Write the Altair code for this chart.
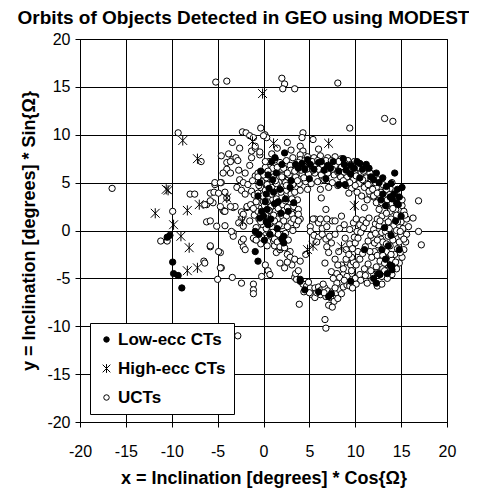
import altair as alt
import pandas as pd

# ---------------- data ----------------
series_names = ["Low-ecc CTs", "High-ecc CTs", "UCTs"]

low_ecc_points = [
    (-10.5, -0.7), (-10.2, -0.5), (-9.9, -3.3), (-9.8, -4.5), (-9.3, -4.7), (-8.9, -6.0),
    (-0.9, -2.2), (-0.6, -3.2), (-0.9, -0.1), (-0.5, -0.4), (0.0, 1.5), (0.4, 2.2), (0.8, 1.2),
    (1.2, 2.8), (0.2, 3.0), (-0.4, 5.0), (-0.6, 3.6), (1.25, 7.6), (0.9, 7.2), (2.3, 8.1),
    (0.3, 3.8), (0.6, 4.4), (1.0, 5.3), (1.4, 6.0), (1.8, 4.3), (2.4, 3.3), (2.9, 4.5),
    (0.5, 0.6), (1.5, 0.2), (2.0, -0.9), (2.2, -1.3), (2.2, -0.6), (-0.2, 2.0), (0.1, -1.0),
    (1.1, 4.0), (-0.3, 6.2), (0.5, 5.8),
    (3.5, 6.9), (4.5, 6.4), (5.5, 6.4), (6.0, 7.1), (6.6, 6.3), (7.3, 6.5), (7.6, 7.2),
    (8.2, 6.2), (8.8, 6.9), (9.5, 6.8), (10.2, 7.2), (10.8, 6.4), (11.2, 6.9), (11.7, 5.6),
    (12.3, 6.0), (12.6, 5.0), (13.0, 5.5), (13.4, 4.6), (14.3, 6.0), (15.1, 4.5), (8.2, 4.8),
    (8.9, 4.8), (5.0, 5.4), (6.8, 5.4), (9.5, 5.9), (10.5, 5.5), (4.2, 7.0), (3.0, 5.2),
    (14.5, 2.9), (14.7, 2.7), (13.8, 3.5), (14.2, 3.8), (13.3, 2.6), (12.8, 3.2), (14.6, 4.3),
    (13.6, -1.6), (13.8, -3.6), (14.0, -4.1), (12.7, -4.6), (12.3, -5.5), (13.3, -3.0),
    (12.5, -4.5), (14.0, -3.7), (13.9, -0.5), (14.4, 1.0), (12.9, -2.0),
    (4.5, -6.2), (4.0, -5.1), (7.1, -6.9), (7.4, -6.6), (4.0, -5.3), (6.0, -6.4),
    (1.9, 1.8), (2.7, 2.0), (0.3, 0.9), (1.6, 3.0), (-0.4, 1.3), (2.0, 6.9), (3.8, 6.5),
    (5.1, 6.9), (6.3, 7.2), (7.0, 6.8), (9.0, 6.3), (9.9, 6.5), (10.5, 7.0), (11.5, 6.5),
    (12.0, 5.3), (13.0, 3.8), (14.0, 3.3), (14.8, 3.5), (15.0, 1.5), (14.8, -2.0), (13.5, -4.5),
    (12.0, -5.0), (13.2, 0.3), (11.0, -2.0), (9.5, -5.3), (8.7, 7.5), (4.8, 7.4), (3.3, 2.9),
    (0.7, -0.4), (13.9, 4.9),
]

high_ecc_points = [
    (-8.8, 9.4), (-7.2, 7.5), (-10.6, 4.3), (-10.4, 4.2), (-11.8, 1.8), (-8.3, 2.1),
    (-7.0, 2.7), (-9.8, 0.6), (-9.0, -0.6), (-8.1, -1.8), (-8.3, -4.2), (-7.2, -3.9),
    (-0.1, 14.3), (1.1, 9.1), (7.1, 9.1), (9.9, 2.6), (4.8, -2.0), (5.4, -1.6), (8.5, -1.7),
    (-1.2, 9.3), (-2.3, 1.0), (-4.0, 3.4),
]

uct_points = [
    # sparse points on the left
    (-16.5, 4.4), (-5.2, 15.5), (-4.0, 15.6), (-9.3, 10.2), (-6.8, 7.2), (-8.0, 3.8), (-7.5, 3.8),
    (-6.2, 2.7), (-5.8, 3.9), (-5.3, 4.8), (-4.6, 7.8), (-4.6, 5.0), (-4.4, 2.1), (-4.0, 3.4),
    (-9.9, 2.0), (-11.2, -1.1), (-10.5, -1.1), (-6.5, -3.2), (-5.8, -1.7), (-5.0, -5.1),
    (-4.7, -2.3), (-4.6, -3.9), (-3.4, -4.9), (-2.4, -5.5), (-1.1, -5.6), (-1.1, -6.2),
    (-1.1, -6.6), (-2.8, -11.0), (-6.2, 0.9), (-5.1, 0.45), (-4.3, 2.0), (-3.3, -0.25),
    (-3.3, -0.6), (-2.4, -1.2), (-2.2, -1.7), (-3.3, 2.4), (-2.4, 1.95), (-2.4, 1.25),
    (-1.8, 2.4), (-1.0, -0.9), (-5.8, 1.0), (-4.2, 0.5), (-3.5, -0.1), (-2.7, 0.8),
    (-2.2, 0.45), (-2.2, -0.9), (-2.0, -2.0), (-1.1, -0.8), (-5.8, -1.6), (-4.9, -2.2),
    (-6.4, -3.4), (-4.7, -3.9), (0.2, -3.6), (0.5, -4.2), (0.7, -4.6), (-0.2, -4.8),
    (1.4, -2.3), (1.8, -2.0), (0.2, -0.2), (0.8, -0.6), (1.1, -1.1),
    (-6.4, 2.7), (-5.5, 2.9), (-4.2, 2.0), (-3.1, 2.5), (-2.2, 1.7), (-1.5, 1.0),
    (-1.0, 1.6), (-0.6, 2.0), (-0.2, 2.4),
    # upper-left scatter
    (-3.8, 8.0), (-3.4, 7.4), (-3.0, 7.6), (-2.8, 7.3), (-3.4, 9.2), (-2.6, 8.6), (-2.3, 10.3),
    (-1.9, 10.2), (-1.5, 9.9), (-1.1, 9.7), (0.16, 10.0), (0.35, 9.7), (-1.3, 8.3), (-0.9, 8.6),
    (-0.4, 7.9), (-4.0, 7.1), (-3.6, 7.2), (-4.0, 6.4), (-3.6, 6.0), (-4.4, 6.0), (-2.7, 6.3),
    (-2.6, 5.3), (-2.2, 5.0), (-1.7, 4.8), (-0.9, 5.7), (-0.6, 6.0), (-5.3, 5.0), (-4.7, 5.0),
    (-5.4, 4.0), (-4.9, 3.9), (-4.2, 4.0), (-2.9, 4.5), (-2.4, 4.2), (-2.0, 3.8), (-1.3, 4.1),
    (-1.0, 3.7), (-0.6, 3.3), (-0.2, 2.9), (-5.8, 3.1), (-4.7, 2.5), (-3.6, 2.5), (-1.8, 2.5),
    (-1.4, 2.7), (-1.1, 2.3), (-1.3, 7.6), (-0.9, 8.8), (-0.4, 8.2), (-0.3, 10.7), (0.0, 9.9),
    (-1.5, 6.8), (-2.0, 6.0), (-1.2, 5.2), (-0.3, 4.5), (0.3, 5.5), (0.2, 6.6), (0.6, 7.2),
    (1.0, 6.5), (0.9, 8.0),
    # upper outliers
    (2.0, 15.9), (2.3, 15.3), (2.1, 14.8), (3.4, 14.8), (8.1, 15.4), (13.2, 11.7), (14.1, 11.4),
    (9.4, 10.7), (4.3, 10.2), (4.2, 9.7), (5.4, 9.5), (6.0, 8.5), (4.0, 8.8), (4.3, 8.3),
    (4.5, 7.8), (4.0, 7.9), (1.5, 8.6), (2.6, 9.2), (3.0, 8.4),
    # central cluster
    (0.0, 0.5), (0.5, 1.0), (1.0, 0.3), (1.5, 1.2), (2.0, 0.5), (2.5, 1.5), (3.0, 0.8), (3.5, 1.8),
    (0.3, 1.8), (0.8, 2.5), (1.3, 2.0), (1.8, 2.8), (2.3, 2.2), (2.8, 3.0), (3.3, 2.5), (0.0, 3.0),
    (0.5, 3.5), (1.0, 3.2), (1.5, 3.8), (2.0, 3.5), (2.5, 4.2), (3.0, 3.8), (0.2, 4.2), (0.7, 4.8),
    (1.2, 4.5), (1.7, 5.0), (2.2, 4.7), (-0.5, 4.7), (-0.8, 3.0), (-0.5, 1.2), (-0.2, 0.0),
    (0.6, -0.2), (1.6, -0.4), (2.4, -0.3), (3.2, 0.0), (2.7, -1.0), (2.1, -1.3), (3.6, 0.6),
    (4.0, 1.2), (3.8, 2.2), (3.7, 3.2), (0.0, 5.8), (0.5, 6.2), (1.1, 5.6), (1.6, 6.2), (2.1, 5.8),
    (2.7, 5.3), (-0.3, 1.6), (0.9, 1.5), (2.2, 1.0), (3.1, 1.7), (1.2, -1.6), (1.9, -1.8),
    (2.9, -2.2),
    (-0.8, 0.3), (-0.3, 0.9), (0.3, 0.2), (0.7, 0.7), (1.2, 1.0), (1.7, 0.6), (2.6, 0.4),
    (3.3, 1.2), (0.1, 2.6), (0.6, 2.1), (1.1, 1.6), (1.6, 2.3), (2.1, 2.7), (2.6, 2.4),
    (3.1, 3.3), (-0.6, 3.9), (-0.1, 3.6), (0.4, 3.0), (0.9, 3.8), (1.4, 3.3), (2.4, 3.1),
    (-0.2, 5.1), (0.4, 4.8), (0.9, 4.5), (1.4, 4.9), (1.9, 4.0), (2.4, 5.0), (-0.6, 5.6),
    (0.2, 7.2), (1.3, 7.4), (2.0, 6.4), (-0.3, -1.4), (0.4, -1.6), (-0.8, -1.0),
    # lower-left diagonal
    (1.0, -0.2), (1.2, -0.9), (1.5, -1.2), (1.8, -1.7), (2.3, -1.8), (2.6, -2.5), (2.9, -2.8),
    (3.4, -3.0), (4.0, -3.2), (1.8, -3.4), (2.3, -3.9), (3.4, -4.9), (3.6, -5.1), (3.9, -7.7),
    (3.5, -4.5), (4.3, -5.6), (3.8, -4.2), (3.1, -3.6), (2.6, -3.3),
    # bottom arc
    (4.7, -5.8), (5.1, -6.0), (5.6, -6.0), (6.0, -5.9), (6.3, -6.2), (6.7, -6.0), (7.0, -6.3),
    (7.5, -6.4), (7.9, -6.5), (8.3, -6.2), (8.7, -5.9), (9.1, -5.7), (5.3, -6.7), (5.6, -7.0),
    (6.2, -6.7), (6.8, -6.9), (7.3, -7.0), (7.7, -7.4), (8.1, -7.1), (8.5, -6.6), (4.4, -6.4),
    (5.0, -6.5), (7.1, -7.8), (7.5, -8.0), (6.7, -9.3), (6.8, -10.2), (4.9, -5.4), (6.5, -5.6),
    (8.0, -5.5), (5.8, -6.5), (6.6, -6.5), (7.8, -6.0),
    # inner band
    (5.1, 0.4), (5.6, 1.2), (6.0, 0.8), (6.4, 0.2), (6.9, 0.4), (7.5, 1.0), (7.8, 1.0), (8.5, 1.5),
    (6.2, 1.2), (5.4, 1.2), (6.9, 1.2), (3.8, 1.7), (3.8, 1.0), (5.1, -0.1), (5.5, -0.5),
    (6.0, -0.7), (6.4, -0.4), (6.8, -0.9), (7.2, -0.6), (7.4, -1.3), (6.9, -1.7), (5.8, -1.2),
    (7.8, -0.4), (8.3, 0.2), (8.8, 0.6), (6.7, -3.4), (7.8, -3.0), (7.4, -4.3), (8.0, -4.5),
    (8.7, -4.6), (9.1, -3.3), (9.5, -3.6), (9.8, -3.3), (9.6, -4.5), (9.3, -5.4), (4.6, -2.5),
    (7.1, -2.3), (8.2, -2.2), (8.9, -0.8), (9.4, 0.1), (9.8, 0.8), (6.3, 3.4), (6.2, 4.3),
    (6.3, 5.2), (6.8, 2.2),
    (9.0, -2.0), (9.4, -1.4), (9.9, -0.7), (10.2, -0.1), (10.5, 0.6), (10.1, 1.2), (10.8, 1.1),
    (9.6, -2.8), (10.3, -2.2), (7.6, -5.0), (8.3, -4.9), (8.5, -3.6), (8.1, -3.6),
    # lower-right band
    (8.7, -4.0), (9.0, -3.0), (9.3, -2.5), (9.7, -1.9), (10.0, -1.3), (10.3, -0.8), (10.6, -0.2),
    (10.9, 0.3), (11.2, 0.8), (11.5, 1.3), (9.1, -4.8), (9.6, -4.2), (10.1, -3.6), (10.5, -3.0),
    (10.8, -2.4), (11.1, -1.7), (11.4, -1.1), (11.7, -0.5), (12.0, 0.1), (12.2, 0.7),
    (10.0, -5.0), (10.5, -4.6), (11.0, -4.0), (11.4, -3.5), (11.8, -2.8), (12.1, -2.2),
    (12.5, -1.5), (12.8, -0.9), (12.9, -0.2), (11.8, -5.2), (12.0, -4.6), (11.3, -5.5),
    (12.3, -3.8), (9.4, -5.8), (8.8, -5.2), (12.4, -5.8), (12.9, -5.6), (13.3, -2.9),
    (13.0, -4.0), (12.4, -4.4), (11.7, -4.2), (11.1, -4.7), (10.6, -5.2), (10.1, -5.6),
    (9.7, -6.0), (13.7, -4.3), (12.7, -3.2), (12.4, -2.6), (11.6, -2.2), (12.1, -1.3),
    # right band
    (13.5, 3.2), (14.0, 2.8), (14.4, 2.2), (14.8, 1.6), (15.0, 0.9), (15.2, 0.2), (15.0, -0.5),
    (14.8, -1.2), (14.6, -1.9), (14.3, -2.5), (14.0, -3.1), (13.6, -3.6), (13.2, -4.2),
    (12.9, -4.8), (13.8, 2.0), (13.9, 1.2), (14.2, 0.5), (14.3, -0.3), (14.1, -1.0),
    (13.8, -1.6), (13.4, -2.2), (13.0, -2.6), (12.9, 1.5), (13.1, 0.7), (13.3, -0.1),
    (13.0, -1.2), (12.6, 2.2), (12.3, 2.9), (12.0, 3.5), (11.6, 3.8), (11.3, 3.2), (11.0, 2.4),
    (12.7, 3.6), (13.2, 4.1), (13.8, 4.4), (14.3, 3.8), (14.7, 3.2), (15.1, 2.6), (15.3, 2.0),
    (15.6, 1.2), (15.8, 0.4), (15.6, -0.4), (15.5, -1.2), (15.3, -2.0), (15.1, -2.8),
    (14.8, -3.4), (14.5, -4.0), (14.0, -4.6), (13.5, -5.0), (16.9, 3.1), (16.3, 1.3),
    (16.9, -0.1), (17.2, -1.5), (15.1, 3.2), (14.0, 5.0), (12.6, 0.5),
    (12.4, 1.2), (12.7, 1.0), (13.4, 1.8), (13.6, 0.9), (13.7, 0.2), (13.6, -0.6), (13.4, -1.4),
    (12.4, -1.0), (12.2, -0.3), (14.5, 0.0), (14.6, 0.9), (14.5, 1.6), (14.1, 2.3), (13.4, 2.6),
    (12.9, 2.9), (14.9, -0.1), (14.9, -2.3), (14.4, -3.3), (13.9, -2.5), (13.2, -3.4),
    (15.3, -0.9), (15.4, 1.6),
    # top arc
    (2.5, 7.3), (3.2, 7.6), (4.0, 7.4), (4.8, 7.7), (5.5, 7.6), (6.2, 7.8), (7.0, 7.6), (7.8, 7.7),
    (8.5, 7.5), (9.2, 7.3), (9.9, 7.2), (10.6, 6.8), (11.3, 6.4), (11.9, 5.9), (12.5, 5.3),
    (13.0, 4.8), (2.2, 6.5), (2.9, 6.8), (3.6, 6.6), (4.3, 6.9), (5.0, 6.8), (5.7, 6.9),
    (6.4, 6.7), (7.1, 6.9), (7.8, 6.8), (8.5, 6.6), (9.2, 6.5), (9.9, 6.2), (10.6, 5.9),
    (11.2, 5.5), (11.8, 5.0), (12.3, 4.5), (12.8, 4.0), (2.8, 5.8), (3.5, 5.6), (4.2, 5.9),
    (4.9, 5.9), (5.6, 6.0), (6.3, 5.8), (7.0, 6.0), (7.7, 5.8), (8.4, 5.6), (9.1, 5.6),
    (9.8, 5.3), (10.4, 4.9), (11.0, 4.5), (11.5, 4.1), (12.0, 3.6), (3.2, 4.8), (3.9, 4.9),
    (4.6, 5.1), (5.2, 4.9), (5.9, 5.1), (7.5, 5.0), (8.1, 4.7), (9.0, 4.7), (9.6, 4.4),
    (10.2, 4.0), (10.7, 3.6), (4.0, 4.2), (4.8, 4.3), (3.4, 4.0), (7.1, 4.5), (9.3, 3.9),
    (3.0, 6.3), (5.3, 7.2), (6.8, 7.3), (8.9, 7.0), (10.3, 6.6), (11.6, 6.0), (1.8, 7.1),
    (1.5, 6.6), (1.3, 5.2),
    (2.0, 5.6), (2.6, 6.0), (3.4, 6.2), (4.1, 6.3), (4.7, 6.4), (5.4, 6.3), (6.0, 6.4),
    (6.8, 6.4), (7.5, 6.4), (8.1, 6.1), (8.8, 6.1), (9.5, 6.0), (10.1, 5.7), (10.8, 5.3),
    (11.4, 4.8), (11.9, 4.3), (12.4, 3.9), (3.8, 7.1), (4.5, 7.3), (5.9, 7.3), (7.4, 7.3),
    (8.2, 7.2), (9.5, 6.9), (10.9, 6.2), (11.7, 5.4), (12.2, 5.0), (13.4, 4.3), (3.7, 5.2),
    (4.4, 5.5), (6.6, 5.3), (8.7, 5.2), (9.4, 5.0), (10.0, 4.7), (2.5, 4.7),
]

axis_ticks = [-20, -15, -10, -5, 0, 5, 10, 15, 20]

# ---------------- table ----------------
draw_rank = {"UCTs": 0, "Low-ecc CTs": 1, "High-ecc CTs": 2}
rows = []
for name, pts in zip(series_names, [low_ecc_points, high_ecc_points, uct_points]):
    for px, py in pts:
        rows.append({"x": px, "y": py, "series": name, "ord": draw_rank[name]})
df = pd.DataFrame(rows).sort_values("ord", kind="stable")

FONT = "Liberation Sans"
star_path = "M-1.4,-1.4L1.4,1.4M-1.4,1.4L1.4,-1.4M0,-1.6L0,1.6"

legend_spec = alt.Legend(title=None, orient="none", legendX=10, legendY=284)

chart = alt.Chart(df).mark_point(
    filled=True, strokeWidth=1, opacity=1, size=40
).encode(
    x=alt.X("x:Q",
            scale=alt.Scale(domain=[-20, 20], nice=False),
            axis=alt.Axis(values=axis_ticks, title="x = Inclination [degrees] * Cos{Ω}",
                          labelPadding=16, titlePadding=10, labelFlush=False,
                          labelExpr="'' + datum.value")),
    y=alt.Y("y:Q",
            scale=alt.Scale(domain=[-20, 20], nice=False),
            axis=alt.Axis(values=axis_ticks, title="y = Inclination [degrees] * Sin{Ω}",
                          labelPadding=5, titlePadding=8, labelFlush=False,
                          labelExpr="'' + datum.value")),
    shape=alt.Shape("series:N",
                    scale=alt.Scale(domain=series_names, range=["circle", star_path, "circle"]),
                    legend=legend_spec),
    fill=alt.Fill("series:N",
                  scale=alt.Scale(domain=series_names, range=["black", "black", "white"]),
                  legend=legend_spec),
    stroke=alt.Stroke("series:N",
                      scale=alt.Scale(domain=series_names, range=["black", "black", "black"]),
                      legend=legend_spec),
    order=alt.Order("ord:Q"),
).properties(
    width=367,
    height=383,
    autosize=alt.AutoSizeParams(type="none"),
    padding={"left": 72, "top": 31, "right": 22, "bottom": 66},
    title=alt.Title("Orbits of Objects Detected in GEO using MODEST",
                    font=FONT, fontSize=19, fontWeight="bold", color="black",
                    anchor="middle", dx=-20, offset=3),
).configure_view(
    stroke="black", strokeWidth=1
).configure_axis(
    grid=True, gridColor="black", gridOpacity=1, gridWidth=1,
    domainColor="black", domainWidth=1, tickColor="black", tickSize=5, tickWidth=1,
    labelFont=FONT, labelFontSize=16, labelColor="black",
    titleFont=FONT, titleFontSize=18, titleFontWeight="bold", titleColor="black",
).configure_legend(
    labelFont=FONT, labelFontSize=17, labelFontWeight="bold", labelColor="black",
    strokeColor="black", fillColor="white", padding=8, rowPadding=11,
    symbolSize=30, symbolStrokeColor="black", symbolStrokeWidth=1, labelOffset=3,
    cornerRadius=0,
)

chart.save("out.html", embed_options={"renderer": "svg", "actions": False})
